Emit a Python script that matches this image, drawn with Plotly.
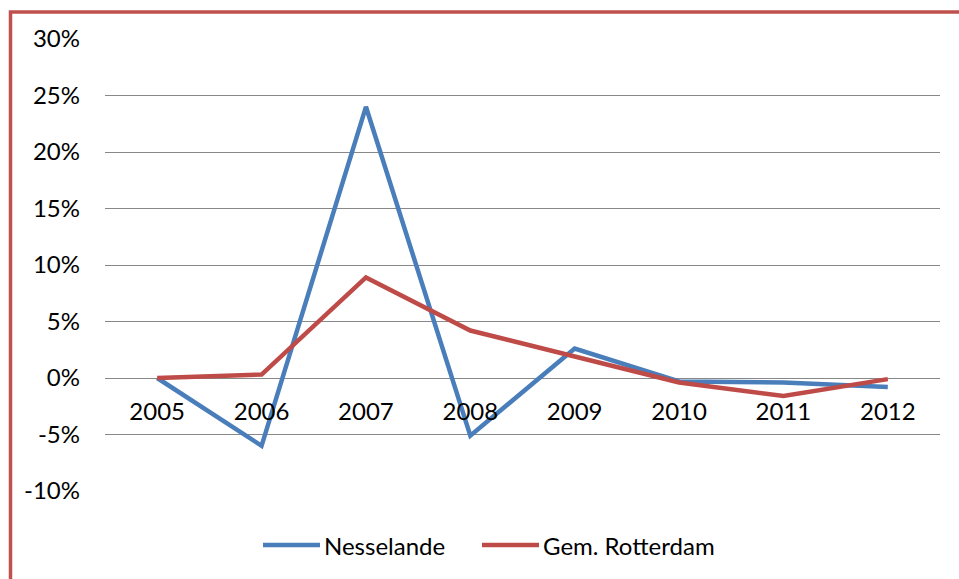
import plotly.graph_objects as go

years = ["2005", "2006", "2007", "2008", "2009", "2010", "2011", "2012"]
nesselande = [0.0, -6.0, 24.0, -5.1, 2.6, -0.3, -0.4, -0.8]
rotterdam = [0.0, 0.3, 8.9, 4.2, 1.9, -0.4, -1.6, -0.1]
series_names = ["Nesselande", "Gem. Rotterdam"]
series_colors = ["#4A7EBB", "#BE4B48"]
y_ticks = [-10, -5, 0, 5, 10, 15, 20, 25, 30]
y_labels = [f"{v}%" for v in y_ticks]

W, H = 959, 579
ML, MR, MT, MB = 105, 19, 39, 88
pw, ph = W - ML - MR, H - MT - MB


def px_x(px):
    return (px - ML) / pw


def px_y(py):
    return (H - MB - py) / ph


fig = go.Figure()
for name, vals, col in zip(series_names, [nesselande, rotterdam], series_colors):
    fig.add_trace(go.Scatter(x=years, y=vals, mode="lines", name=name,
                             line=dict(color=col, width=4.5)))

font = dict(family="Lato, Open Sans, sans-serif", size=24, color="#000000")

# legend drawn as line keys plus labels below the plot
shapes = []
annotations = []
legend_y = px_y(545)
key_starts = [263, 482]
for x0, name, col in zip(key_starts, series_names, series_colors):
    shapes.append(dict(type="line", xref="paper", yref="paper",
                       x0=px_x(x0), x1=px_x(x0 + 57), y0=legend_y, y1=legend_y,
                       line=dict(color=col, width=4.5)))
    annotations.append(dict(xref="paper", yref="paper", x=px_x(x0 + 59), y=legend_y,
                            text=name, showarrow=False, xanchor="left",
                            yanchor="middle", font=font))

shapes.append(dict(type="rect", xref="paper", yref="paper",
                   x0=px_x(10.5), x1=1.2, y0=-0.5, y1=px_y(12),
                   line=dict(color="#C0504D", width=3.5), layer="above"))

fig.update_layout(
    width=W, height=H,
    margin=dict(l=ML, r=MR, t=MT, b=MB),
    paper_bgcolor="white", plot_bgcolor="white",
    font=font,
    showlegend=False,
    xaxis=dict(type="category", range=[-0.5, 7.5], anchor="free", position=0.25,
               showgrid=False, showline=False, zeroline=False, ticks="",
               ticklabelstandoff=17, tickfont=font),
    yaxis=dict(range=[-10, 30], tickvals=y_ticks, ticktext=y_labels,
               showgrid=True, gridcolor="#888888", gridwidth=1.3,
               zeroline=False, showline=False, ticks="",
               ticklabelstandoff=24, tickfont=font),
    shapes=shapes,
    annotations=annotations,
)

fig.write_html("out.html")
